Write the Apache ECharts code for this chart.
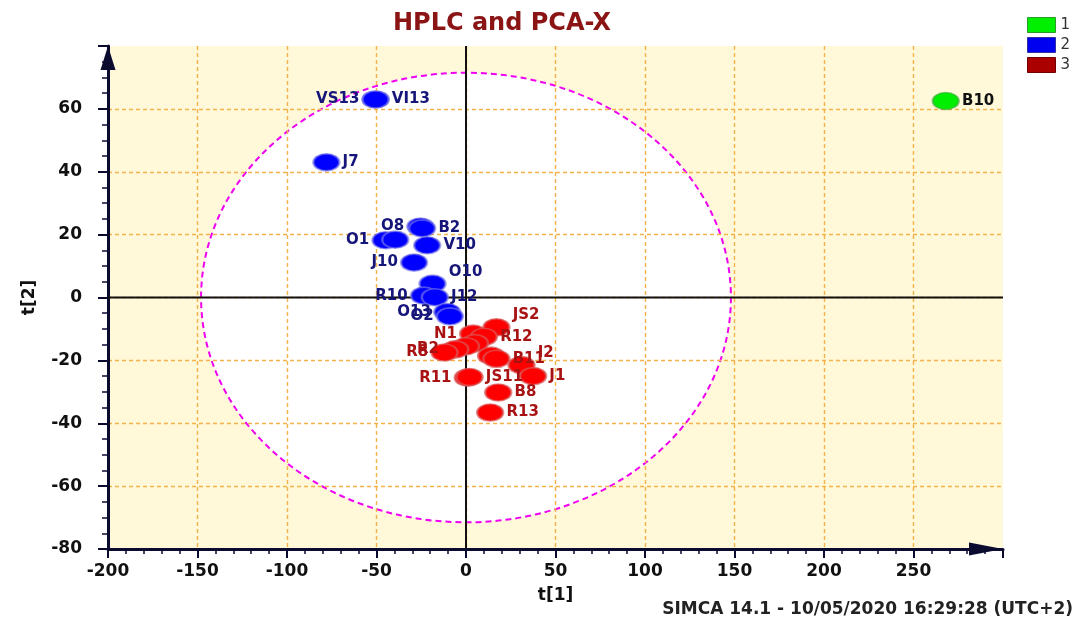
<!DOCTYPE html>
<html><head><meta charset="utf-8">
<script src="https://cdn.jsdelivr.net/npm/echarts@6/dist/echarts.min.js"></script>
<style>html,body{margin:0;padding:0;background:#fff}#c{width:1083px;height:626px}</style>
</head><body><div id="c"></div>
<script>
// ---- data ----
const groupNames = ['1', '2', '3'];

const names1 = ['B10'];
const t1_g1 = [268];
const t2_g1 = [62.5];

const names2 = ['VS13','VI13','J7','O8','B2','O1','','V10','J10','O10','R10','J12','O13','O2'];
const t1_g2 = [-50.5,-50.5,-78,-25.5,-24.5,-45,-39.5,-21.7,-29,-18.7,-23.5,-17.4,-10.5,-9];
const t2_g2 = [63,63,43,22.6,22,18.2,18.4,16.6,11.1,4.4,0.6,0.1,-4.6,-6];

const names3 = ['JS2','N1','R12','','','R2','R8','','B11','I2','J1','R11','JS11','B8','R13'];
const t1_g3 = [17,4,10,5,0,-6,-12,14,17,31,37.5,1,2,18,13.5];
const t2_g3 = [-9.5,-11.5,-12.5,-14.5,-15.5,-16.5,-17.5,-18.5,-19.5,-21.5,-25,-25.5,-25.3,-30.2,-36.6];

const labelLeft = ['VS13','O8','O1','J10','R10','O13','O2','N1','R2','R8','R11'];
const labelAbove = ['O10','JS2','I2'];

// Hotelling ellipse (center and semi-axes, in score units)
const ellipse = { t1: 0, t2: 0, r1: 148, r2: 71.5 };

const xRange = [-200, 300], xStep = 50;
const yRange = [-80, 80], yStep = 20;

const titleText = 'HPLC and PCA-X';
const footerText = 'SIMCA 14.1 - 10/05/2020 16:29:28 (UTC+2)';

// ---- chart ----
function items(names, xs, ys) {
  return names.map((n, i) => ({
    name: n, value: [xs[i], ys[i]],
    label: labelLeft.includes(n) ? { position: 'left' }
         : labelAbove.includes(n) ? { position: 'right', offset: [0, -12] }
         : { position: 'right' }
  }));
}
const FONT = 'DejaVu Sans';
const axisDark = '#0B0B30';
const gridLine = { show: true, showMinLine: false, showMaxLine: false,
  lineStyle: { color: '#F6B24A', width: 1.4, type: [4, 3] } };

function scatter(name, data, color, border, labelColor) {
  return {
    name, type: 'scatter', z: 3, data,
    symbol: 'circle', symbolSize: [26, 17],
    itemStyle: { color, borderColor: border, borderWidth: 2, opacity: 1 },
    label: { show: true, formatter: '{b}', distance: 2,
      fontFamily: FONT, fontWeight: 'bold', fontSize: 15, color: labelColor },
    emphasis: { disabled: true }
  };
}

const chart = echarts.init(document.getElementById('c'), null, { renderer: 'canvas' });
chart.setOption({
  animation: false,
  backgroundColor: '#ffffff',
  title: [
    { text: titleText, left: 497, top: 7, textAlign: 'center',
      textStyle: { fontFamily: FONT, fontWeight: 'bold', fontSize: 24, color: '#8B1414' } },
    { text: footerText, right: 5, bottom: 3,
      textStyle: { fontFamily: FONT, fontWeight: 'bold', fontSize: 17, color: '#222' } }
  ],
  legend: {
    orient: 'vertical', left: 1022, top: 12, itemWidth: 28, itemHeight: 15, itemGap: 4,
    icon: 'rect', selectedMode: false,
    textStyle: { fontFamily: FONT, fontSize: 15, color: '#333' },
    data: [
      { name: groupNames[0], itemStyle: { color: '#00F000', borderColor: '#2A9A2A', borderWidth: 1 } },
      { name: groupNames[1], itemStyle: { color: '#0000F0', borderColor: '#3030A0', borderWidth: 1 } },
      { name: groupNames[2], itemStyle: { color: '#AA0000', borderColor: '#700000', borderWidth: 1 } }
    ]
  },
  grid: { left: 108, right: 80, top: 46, bottom: 77, containLabel: false },
  xAxis: {
    type: 'value', min: xRange[0], max: xRange[1], interval: xStep,
    name: 't[1]', nameLocation: 'middle', nameGap: 38,
    nameTextStyle: { fontFamily: FONT, fontWeight: 'bold', fontSize: 17, color: '#111' },
    axisLine: { onZero: false, lineStyle: { color: axisDark, width: 3 },
      symbol: ['none', 'triangle'], symbolSize: [13, 34], symbolOffset: [0, -17] },
    axisTick: { show: true, length: 9, lineStyle: { color: axisDark, width: 2 } },
    minorTick: { show: true, splitNumber: 5, length: 5, lineStyle: { color: axisDark, width: 1.5 } },
    axisLabel: { showMaxLabel: false, margin: 14, fontFamily: FONT, fontWeight: 'bold', fontSize: 17, color: '#111' },
    splitLine: gridLine
  },
  yAxis: {
    type: 'value', min: yRange[0], max: yRange[1], interval: yStep,
    name: 't[2]', nameLocation: 'middle', nameGap: 70,
    nameTextStyle: { fontFamily: FONT, fontWeight: 'bold', fontSize: 17, color: '#111' },
    axisLine: { onZero: false, lineStyle: { color: axisDark, width: 3 },
      symbol: ['none', 'triangle'], symbolSize: [15, 24], symbolOffset: [0, -12] },
    axisTick: { show: true, length: 10, lineStyle: { color: axisDark, width: 2 } },
    minorTick: { show: true, splitNumber: 4, length: 6, lineStyle: { color: axisDark, width: 1.5 } },
    axisLabel: { showMaxLabel: false, margin: 26, fontFamily: FONT, fontWeight: 'bold', fontSize: 17, color: '#111' },
    splitLine: gridLine
  },
  series: [
    { // plot background + confidence ellipse
      type: 'custom', z: -1, silent: true, data: [[ellipse.t1, ellipse.t2]],
      renderItem(params, api) {
        const tl = api.coord([xRange[0], yRange[1]]);
        const br = api.coord([xRange[1], yRange[0]]);
        const c = api.coord([api.value(0), api.value(1)]);
        const s = api.size([ellipse.r1, ellipse.r2]);
        return { type: 'group', children: [
          { type: 'rect', shape: { x: tl[0], y: tl[1], width: br[0] - tl[0], height: br[1] - tl[1] },
            style: { fill: '#FFF9DA' } },
          { type: 'ellipse', shape: { cx: c[0], cy: c[1], rx: s[0], ry: s[1] },
            style: { fill: '#FFFFFF', stroke: '#F000F0', lineWidth: 2, lineDash: [6, 4] } }
        ] };
      }
    },
    { // zero lines
      type: 'custom', z: 1, silent: true, data: [[0, 0]],
      renderItem(params, api) {
        const a = api.coord([0, yRange[0]]), b = api.coord([0, yRange[1]]);
        const l = api.coord([xRange[0], 0]), r = api.coord([xRange[1], 0]);
        return { type: 'group', children: [
          { type: 'line', shape: { x1: a[0], y1: a[1], x2: b[0], y2: b[1] }, style: { stroke: '#111', lineWidth: 2 } },
          { type: 'line', shape: { x1: l[0], y1: l[1], x2: r[0], y2: r[1] }, style: { stroke: '#111', lineWidth: 2 } }
        ] };
      }
    },
    scatter(groupNames[0], items(names1, t1_g1, t2_g1), '#00EE00', 'rgba(60,170,60,0.6)', '#111'),
    scatter(groupNames[1], items(names2, t1_g2, t2_g2), '#0000FF', 'rgba(120,120,230,0.65)', '#16167A'),
    scatter(groupNames[2], items(names3, t1_g3, t2_g3), '#FF0000', 'rgba(215,90,90,0.7)', '#A81212')
  ]
});
</script>
</body></html>
